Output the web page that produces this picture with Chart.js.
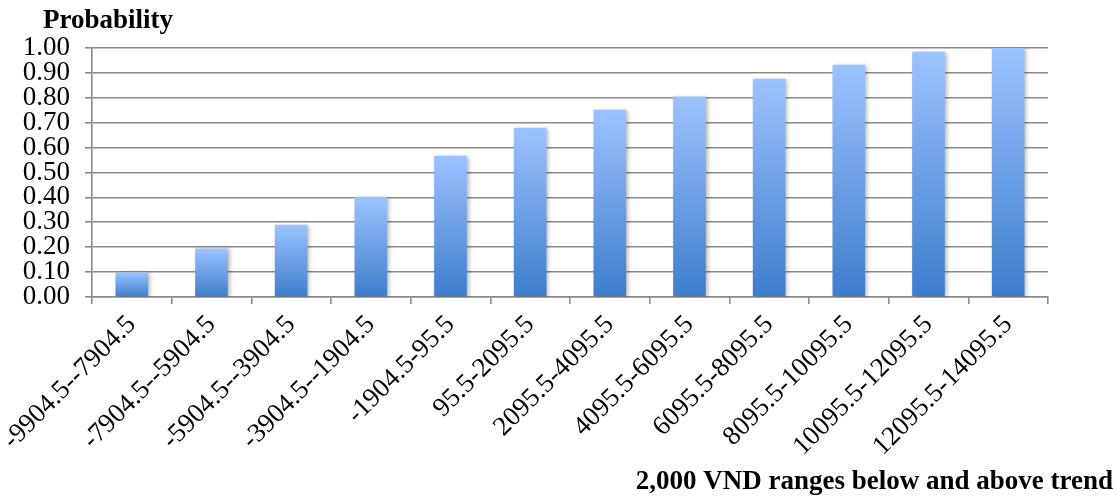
<!DOCTYPE html>
<html>
<head>
<meta charset="utf-8">
<script src="https://cdn.jsdelivr.net/npm/chart.js@4.4.0/dist/chart.umd.min.js"></script>
<style>
  html,body{margin:0;padding:0;background:#fff;}
  #wrap{width:1117px;height:498px;}
</style>
</head>
<body>
<div id="wrap"><canvas id="myChart" width="1117" height="498"></canvas></div>
<script>
// 데이터
const ranges = ['-9904.5--7904.5','-7904.5--5904.5','-5904.5--3904.5','-3904.5--1904.5','-1904.5-95.5','95.5-2095.5',
  '2095.5-4095.5','4095.5-6095.5','6095.5-8095.5','8095.5-10095.5','10095.5-12095.5','12095.5-14095.5'];
const probability = [0.099, 0.195, 0.29, 0.403, 0.567, 0.68, 0.752, 0.805, 0.877, 0.933, 0.985, 1.0];
const yTitle = 'Probability';
const xTitle = '2,000 VND ranges below and above trend';

const serif = "'Liberation Serif', 'Times New Roman', serif";
const gridColor = '#8a8a8a';

// 막대마다 위는 밝고 아래는 진한 그라데이션
function barFill(c){
  const chart = c.chart;
  if(!chart.chartArea || c.dataIndex == null) return '#6a9ee6';
  const y = chart.scales.y;
  const top = y.getPixelForValue(probability[c.dataIndex]);
  const bottom = y.getPixelForValue(0);
  const g = chart.ctx.createLinearGradient(0, top, 0, bottom);
  g.addColorStop(0, '#9cc3ff');
  g.addColorStop(1, '#3d7dcc');
  return g;
}

// 축 제목 + 막대 그림자
const extras = {
  id: 'extras',
  beforeDatasetsDraw(chart){
    const ctx = chart.ctx;
    ctx.save();
    ctx.shadowColor = 'rgba(0,0,0,0.28)';
    ctx.shadowBlur = 4;
    ctx.shadowOffsetX = 2;
    ctx.shadowOffsetY = 1;
  },
  afterDatasetsDraw(chart){
    chart.ctx.restore();
  },
  afterDraw(chart){
    const ctx = chart.ctx;
    const a = chart.chartArea;
    ctx.save();
    ctx.fillStyle = '#000';
    ctx.font = "bold 27px " + serif;
    ctx.textBaseline = 'alphabetic';
    ctx.textAlign = 'left';
    ctx.fillText(yTitle, a.left - 49, a.top - 20);
    ctx.textAlign = 'right';
    ctx.fillText(xTitle, chart.width - 4, chart.height - 9);
    ctx.restore();
  }
};

const ctx = document.getElementById('myChart');
new Chart(ctx, {
  type: 'bar',
  data: {
    labels: ranges,
    datasets: [{
      label: yTitle,
      data: probability,
      backgroundColor: barFill,
      borderWidth: 0,
      categoryPercentage: 1,
      barPercentage: 0.41
    }]
  },
  options: {
    responsive: false,
    animation: false,
    layout: { padding: { top: 48, right: 69, left: 0, bottom: 0 } },
    plugins: { legend: { display: false }, tooltip: { enabled: false } },
    scales: {
      x: {
        offset: true,
        grid: {
          display: true, drawOnChartArea: false, offset: true,
          tickLength: 7, color: gridColor, lineWidth: 1.6
        },
        border: { display: true, color: gridColor, width: 1.6 },
        ticks: {
          autoSkip: false, minRotation: 45, maxRotation: 45,
          padding: 5, color: '#000',
          font: { family: serif, size: 27 }
        },
        afterFit(s){ s.height = 201; s.paddingLeft = 0; s.paddingRight = 0; }
      },
      y: {
        min: 0, max: 1,
        grid: { color: gridColor, lineWidth: 1.6, tickLength: 7 },
        border: { display: true, color: gridColor, width: 1.6 },
        ticks: {
          stepSize: 0.1, autoSkip: false, padding: 15, color: '#000',
          font: { family: serif, size: 27, lineHeight: 1 },
          callback: (v) => Number(v).toFixed(2)
        },
        afterFit(s){ s.width = 92; s.paddingTop = 0; s.paddingBottom = 0; }
      }
    }
  },
  plugins: [extras]
});
</script>
</body>
</html>
